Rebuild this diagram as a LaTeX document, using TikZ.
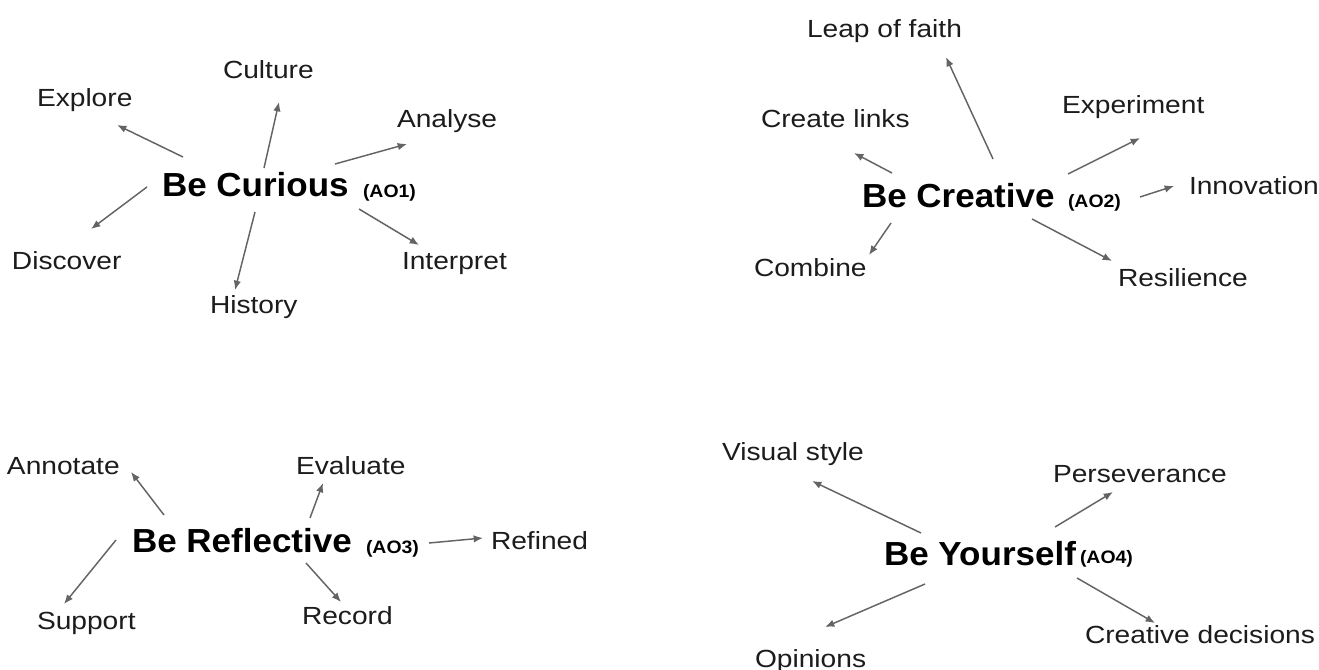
\documentclass[tikz,border=0pt]{standalone}
\usepackage{graphicx}
\usepackage{fontspec}
\setmainfont{Liberation Sans}
\usetikzlibrary{arrows.meta}

\definecolor{inkgray}{RGB}{100,100,100}
\definecolor{textblack}{RGB}{28,28,28}

% slightly widened lettering
\newcommand{\lbl}[1]{\scalebox{1.135}[1]{#1}}
\newcommand{\hubtxt}[1]{\scalebox{1.05}[1]{#1}}
\newcommand{\tagtxt}[1]{\scalebox{1.08}[1]{#1}}

\tikzset{
  item/.style={anchor=base west, inner sep=0pt, outer sep=0pt, text=textblack,
               font=\fontsize{18.6}{22}\selectfont},
  hub/.style={anchor=base west, inner sep=0pt, outer sep=0pt, text=black,
              font=\fontsize{25}{30}\selectfont\bfseries},
  tag/.style={anchor=base west, inner sep=0pt, outer sep=0pt, text=black,
              font=\fontsize{13.5}{16}\selectfont\bfseries},
  link/.style={draw=inkgray, line width=1.1pt, -{Latex[length=7pt,width=5.6pt]}},
}

\begin{document}
\begin{tikzpicture}[x=0.75pt, y=-0.75pt]
\fill[white] (0,0) rectangle (1319,670);
\useasboundingbox (0,0) rectangle (1319,670);

% ---------- Be Curious ----------
\node[hub] (curious) at (162,197) {\hubtxt{Be Curious}};
\node[tag] (ao1) at (363,198) {\tagtxt{(AO1)}};
\node[item] (explore)   at (37,107)  {\lbl{Explore}};
\node[item] (culture)   at (223,79)  {\lbl{Culture}};
\node[item] (analyse)   at (397,128) {\lbl{Analyse}};
\node[item] (discover)  at (12,269)  {\lbl{Discover}};
\node[item] (interpret) at (402,269) {\lbl{Interpret}};
\node[item] (history)   at (210,313) {\lbl{History}};

\coordinate (cu-ex-a) at (183,157); \coordinate (cu-ex-b) at (117,125);
\coordinate (cu-cu-a) at (264,168); \coordinate (cu-cu-b) at (279,102);
\coordinate (cu-an-a) at (335,164); \coordinate (cu-an-b) at (407,144);
\coordinate (cu-di-a) at (147,187); \coordinate (cu-di-b) at (91,229);
\coordinate (cu-hi-a) at (255,212); \coordinate (cu-hi-b) at (235,290);
\coordinate (cu-in-a) at (359,209); \coordinate (cu-in-b) at (419,245);
\draw[link] (cu-ex-a) -- (cu-ex-b);
\draw[link] (cu-cu-a) -- (cu-cu-b);
\draw[link] (cu-an-a) -- (cu-an-b);
\draw[link] (cu-di-a) -- (cu-di-b);
\draw[link] (cu-hi-a) -- (cu-hi-b);
\draw[link] (cu-in-a) -- (cu-in-b);

% ---------- Be Creative ----------
\node[hub] (creative) at (862,208) {\hubtxt{Be Creative}};
\node[tag] (ao2) at (1068,208) {\tagtxt{(AO2)}};
\node[item] (leap)       at (807,38)   {\lbl{Leap of faith}};
\node[item] (links)      at (761,128)  {\lbl{Create links}};
\node[item] (experiment) at (1062,114) {\lbl{Experiment}};
\node[item] (innovation) at (1189,195) {\lbl{Innovation}};
\node[item] (combine)    at (754,276)  {\lbl{Combine}};
\node[item] (resilience) at (1118,286) {\lbl{Resilience}};

\coordinate (cr-le-a) at (993,159);  \coordinate (cr-le-b) at (946,57);
\coordinate (cr-li-a) at (892,173);  \coordinate (cr-li-b) at (854,153);
\coordinate (cr-ex-a) at (1068,174); \coordinate (cr-ex-b) at (1140,138);
\coordinate (cr-in-a) at (1140,197); \coordinate (cr-in-b) at (1174,186);
\coordinate (cr-co-a) at (891,223);  \coordinate (cr-co-b) at (869,255);
\coordinate (cr-re-a) at (1032,219); \coordinate (cr-re-b) at (1112,261);
\draw[link] (cr-le-a) -- (cr-le-b);
\draw[link] (cr-li-a) -- (cr-li-b);
\draw[link] (cr-ex-a) -- (cr-ex-b);
\draw[link] (cr-in-a) -- (cr-in-b);
\draw[link] (cr-co-a) -- (cr-co-b);
\draw[link] (cr-re-a) -- (cr-re-b);

% ---------- Be Reflective ----------
\node[hub] (reflective) at (132,552) {\hubtxt{Be Reflective}};
\node[tag] (ao3) at (366,553) {\tagtxt{(AO3)}};
\node[item] (annotate) at (7,474)   {\lbl{Annotate}};
\node[item] (evaluate) at (296,474) {\lbl{Evaluate}};
\node[item] (refined)  at (491,549) {\lbl{Refined}};
\node[item] (support)  at (37,629)  {\lbl{Support}};
\node[item] (record)   at (302,624) {\lbl{Record}};

\coordinate (re-an-a) at (164,515); \coordinate (re-an-b) at (131,472);
\coordinate (re-ev-a) at (310,518); \coordinate (re-ev-b) at (323,483);
\coordinate (re-su-a) at (116,540); \coordinate (re-su-b) at (64,604);
\coordinate (re-rc-a) at (306,563); \coordinate (re-rc-b) at (341,602);
\coordinate (re-rf-a) at (429,543); \coordinate (re-rf-b) at (483,538);
\draw[link] (re-an-a) -- (re-an-b);
\draw[link] (re-ev-a) -- (re-ev-b);
\draw[link] (re-su-a) -- (re-su-b);
\draw[link] (re-rc-a) -- (re-rc-b);
\draw[link] (re-rf-a) -- (re-rf-b);

% ---------- Be Yourself ----------
\node[hub] (yourself) at (884,565) {\hubtxt{Be Yourself}};
\node[tag] (ao4) at (1080,563) {\tagtxt{(AO4)}};
\node[item] (visual)    at (722,460)  {\lbl{Visual style}};
\node[item] (persever)  at (1053,482) {\lbl{Perseverance}};
\node[item] (opinions)  at (755,667)  {\lbl{Opinions}};
\node[item] (decisions) at (1085,643) {\lbl{Creative decisions}};

\coordinate (yo-vi-a) at (921,533);  \coordinate (yo-vi-b) at (812,481);
\coordinate (yo-pe-a) at (1055,527); \coordinate (yo-pe-b) at (1113,492);
\coordinate (yo-op-a) at (925,584);  \coordinate (yo-op-b) at (825,627);
\coordinate (yo-de-a) at (1077,578); \coordinate (yo-de-b) at (1155,623);
\draw[link] (yo-vi-a) -- (yo-vi-b);
\draw[link] (yo-pe-a) -- (yo-pe-b);
\draw[link] (yo-op-a) -- (yo-op-b);
\draw[link] (yo-de-a) -- (yo-de-b);
\end{tikzpicture}
\end{document}
